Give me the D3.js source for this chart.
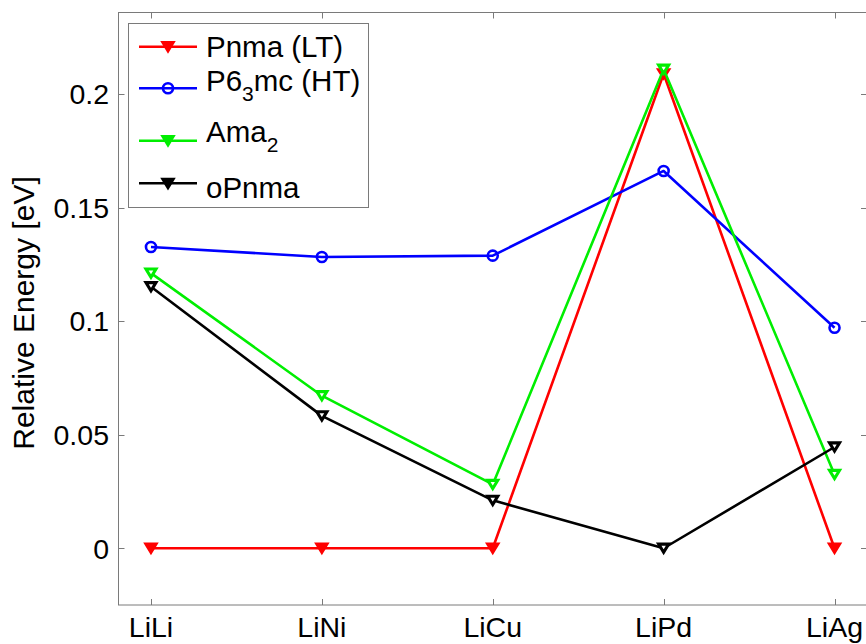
<!DOCTYPE html>
<html>
<head>
<meta charset="utf-8">
<script src="https://cdn.jsdelivr.net/npm/d3@7/dist/d3.min.js"></script>
<style>
  html, body { margin: 0; padding: 0; background: #fff; }
  svg { display: block; font-family: "Liberation Sans", Arial, Helvetica, sans-serif; }
</style>
</head>
<body>
<svg id="chart" width="866" height="644"></svg>
<script>
// Relative energies (eV) of each structure for the five compounds
const categories = ["LiLi", "LiNi", "LiCu", "LiPd", "LiAg"];
const pnmaLT   = [0, 0, 0, 0.209, 0];
const p63mcHT  = [0.1327, 0.1283, 0.1289, 0.1662, 0.0971];
const ama2     = [0.1212, 0.0672, 0.0281, 0.2110, 0.0325];
const oPnma    = [0.1152, 0.0583, 0.0211, 0, 0.0446];
const yTicks   = [0, 0.05, 0.1, 0.15, 0.2];
const yTickLabels = ["0", "0.05", "0.1", "0.15", "0.2"];

const series = [
  { name: "Pnma (LT)",  sub: null, tail: "", values: pnmaLT,  color: "#ff0000", marker: "tri",    filled: true },
  { name: "P6",  sub: "3", tail: "mc (HT)",  values: p63mcHT, color: "#0000ff", marker: "circle", filled: false },
  { name: "Ama", sub: "2", tail: "",         values: ama2,    color: "#00ee00", marker: "tri",    filled: false },
  { name: "oPnma", sub: null, tail: "",      values: oPnma,   color: "#000000", marker: "tri",    filled: false }
];

const svg = d3.select("#chart");
const plotL = 118.5, plotT = 12.5, plotR = 867, plotB = 605;

const x = d3.scaleLinear().domain([0.81, 5.19]).range([plotL, plotR]);
const y = d3.scaleLinear().domain([-0.025, 0.236]).range([plotB, plotT]);

const axisColor = "#7a7a7a";
const tickLen = 6;
const lw = 2.6;

// axes box
svg.append("rect")
  .attr("x", plotL).attr("y", plotT)
  .attr("width", plotR - plotL).attr("height", plotB - plotT)
  .attr("fill", "none").attr("stroke", axisColor).attr("stroke-width", 1);

// inward ticks on all four sides
const xIdx = categories.map((_, i) => i + 1);
const gTicks = svg.append("g").attr("stroke", axisColor).attr("stroke-width", 1);
xIdx.forEach(i => {
  const xp = Math.round(x(i)) + 0.5;
  gTicks.append("line").attr("x1", xp).attr("x2", xp).attr("y1", plotB).attr("y2", plotB - tickLen);
  gTicks.append("line").attr("x1", xp).attr("x2", xp).attr("y1", plotT).attr("y2", plotT + tickLen);
});
yTicks.forEach(v => {
  const yp = Math.round(y(v)) + 0.5;
  gTicks.append("line").attr("x1", plotL).attr("x2", plotL + tickLen).attr("y1", yp).attr("y2", yp);
  gTicks.append("line").attr("x1", plotR).attr("x2", plotR - tickLen).attr("y1", yp).attr("y2", yp);
});

// tick labels
svg.append("g").selectAll("text").data(categories).join("text")
  .attr("x", (d, i) => x(i + 1)).attr("y", 637)
  .attr("text-anchor", "middle").attr("font-size", 28.5).attr("fill", "#000")
  .text(d => d);

svg.append("g").selectAll("text").data(yTicks).join("text")
  .attr("x", 109).attr("y", d => y(d)).attr("dy", "0.36em")
  .attr("text-anchor", "end").attr("font-size", 28.5).attr("fill", "#000")
  .text((d, i) => yTickLabels[i]);

// y-axis title
svg.append("text")
  .attr("transform", "translate(34,313) rotate(-90)")
  .attr("text-anchor", "middle").attr("font-size", 30).attr("fill", "#000")
  .text("Relative Energy [eV]");

// marker drawing: downward triangles with a heavy edge, circles for the HT phase
const triPath = () => {
  const w = 5.0, h = 4.1;
  return `M${-w},${-h}L${w},${-h}L0,${h}Z`;
};
function drawMarker(g, cx, cy, s) {
  if (s.marker === "circle") {
    g.append("circle").attr("cx", cx).attr("cy", cy).attr("r", 5)
      .attr("fill", "none").attr("stroke", s.color).attr("stroke-width", lw);
  } else {
    g.append("path").attr("d", triPath()).attr("transform", `translate(${cx},${cy})`)
      .attr("fill", s.filled ? s.color : "#fff")
      .attr("stroke", s.color).attr("stroke-width", 3.1).attr("stroke-linejoin", "miter");
  }
}

const line = d3.line().x((d, i) => x(i + 1)).y(d => y(d));
series.forEach(s => {
  const g = svg.append("g");
  g.append("path").attr("d", line(s.values))
    .attr("fill", "none").attr("stroke", s.color).attr("stroke-width", lw)
    .attr("stroke-linejoin", "round");
  s.values.forEach((v, i) => drawMarker(g, x(i + 1), y(v), s));
});

// legend
const lg = svg.append("g");
lg.append("rect").attr("x", 128.5).attr("y", 23.5).attr("width", 240).attr("height", 184)
  .attr("fill", "#fff").attr("stroke", axisColor).attr("stroke-width", 1);
const rowLineY = [46.7, 88.3, 140.7, 183.3];
const rowBase  = [57, 91, 142, 198];
series.forEach((s, k) => {
  const ly = rowLineY[k];
  lg.append("line").attr("x1", 139).attr("x2", 197).attr("y1", ly).attr("y2", ly)
    .attr("stroke", s.color).attr("stroke-width", lw);
  drawMarker(lg, 168, ly, { ...s, filled: s.marker === "tri" });
  const t = lg.append("text").attr("x", 206).attr("y", rowBase[k])
    .attr("font-size", 29.5).attr("fill", "#000");
  t.append("tspan").text(s.name);
  if (s.sub) {
    t.append("tspan").attr("font-size", 21).attr("dy", 10).text(s.sub);
    if (s.tail) t.append("tspan").attr("dy", -10).text(s.tail);
  }
});
</script>
</body>
</html>
